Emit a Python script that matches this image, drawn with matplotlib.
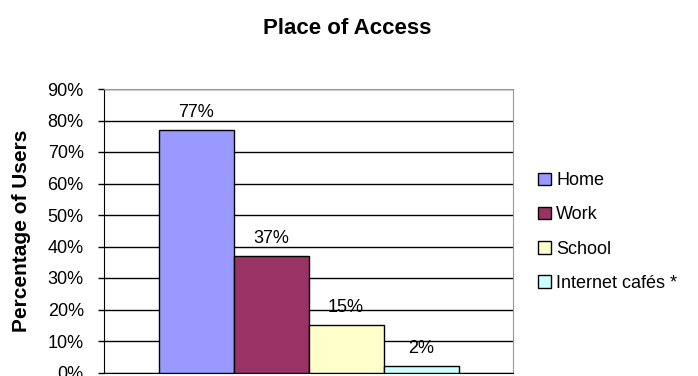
import matplotlib.pyplot as plt
import matplotlib.ticker as mticker

plt.rcParams['font.family'] = ['Liberation Sans', 'DejaVu Sans']

# data
places = ['Home', 'Work', 'School', 'Internet cafés *']
shares = [77, 37, 15, 2]
colors = ['#9999FF', '#993366', '#FFFFCC', '#CCFFFF']
yticks = list(range(0, 91, 10))

fig = plt.figure(figsize=(6.98, 3.76), dpi=100)
ax = fig.add_axes([104 / 698, 1 - 372.5 / 376, 409 / 698, 283.5 / 376])

pos = [-1.5, -0.5, 0.5, 1.5]
bars = ax.bar(pos, shares, width=1.0, color=colors, edgecolor='black',
              linewidth=1.0, label=places, zorder=3)
for p, v in zip(pos, shares):
    ax.text(p, v + 2.8, f'{v}%', ha='center', va='bottom', fontsize=13, zorder=4)

ax.set_xlim(-409 / 150, 409 / 150)
ax.set_ylim(0, 90)
ax.set_yticks(yticks)
ax.yaxis.set_major_formatter(mticker.FuncFormatter(lambda v, _: f'{v:.0f}%'))
ax.set_xticks([])
ax.tick_params(axis='y', labelsize=13, length=4.5, width=1, direction='out', pad=10)
ax.grid(axis='y', color='black', linewidth=1, zorder=0)

for side in ['top', 'right']:
    ax.spines[side].set_color('#999999')
ax.spines['left'].set_color('black')
ax.spines['bottom'].set_color('black')

ax.set_ylabel('Percentage of Users', fontsize=15, fontweight='bold', labelpad=12)
fig.text(0.497, 1 - 28 / 376, 'Place of Access', ha='center', va='center',
         fontsize=16, fontweight='bold')

fig.legend(bars, places, loc='center left', bbox_to_anchor=(538 / 698, 1 - 232 / 376),
           frameon=False, fontsize=13, handlelength=0.7, handleheight=0.7,
           handletextpad=0.3, labelspacing=0.95, borderpad=0, borderaxespad=0)

fig.savefig('out.png', dpi=100)
